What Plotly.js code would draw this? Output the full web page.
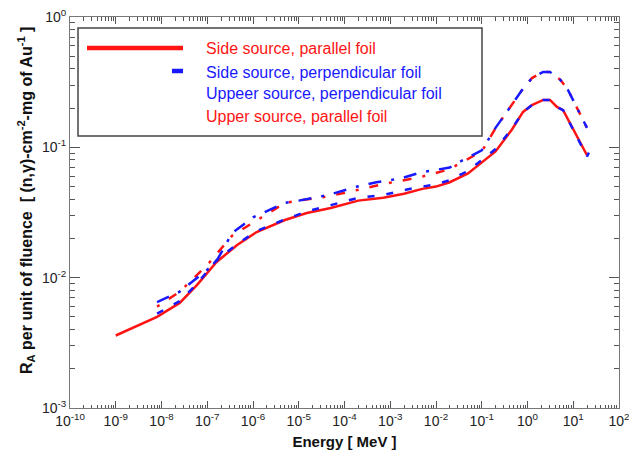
<!DOCTYPE html>
<html>
<head>
<meta charset="utf-8">
<script src="https://cdn.plot.ly/plotly-3.0.1.min.js"></script>
<style>html,body{margin:0;padding:0;background:#fff;}#chart{width:629px;height:458px;}</style>
</head>
<body>
<div id="chart"></div>
<script>
// Side source, parallel foil (red solid)
const sideParE = [1e-9, 8e-9, 2.5e-8, 6e-8, 1.6e-7, 4.5e-7, 1.2e-6, 5e-6, 1.5e-5, 5e-5, 2e-4, 7e-4, 2e-3, 5e-3, 1e-2, 2e-2, 5e-2, 0.1, 0.2, 0.45, 0.8, 1.25, 2.2, 3.1, 4.4, 6, 10, 20];
const sideParV = [0.0036, 0.0050, 0.0064, 0.0088, 0.0132, 0.0178, 0.0224, 0.0277, 0.0313, 0.0342, 0.039, 0.041, 0.044, 0.048, 0.050, 0.054, 0.063, 0.076, 0.093, 0.136, 0.187, 0.211, 0.231, 0.231, 0.204, 0.193, 0.136, 0.087];

// Side source, perpendicular foil (blue dashed)
const sidePerpE = [8e-9, 2.5e-8, 6e-8, 1.6e-7, 4.5e-7, 1.2e-6, 5e-6, 1.5e-5, 5e-5, 2e-4, 7e-4, 2e-3, 5e-3, 1e-2, 2e-2, 5e-2, 0.1, 0.2, 0.45, 0.8, 1.25, 2.2, 3.1, 4.4, 6, 10, 20, 22];
const sidePerpV = [0.0053, 0.0066, 0.0090, 0.0136, 0.0181, 0.0228, 0.0280, 0.0322, 0.0360, 0.041, 0.043, 0.047, 0.050, 0.052, 0.056, 0.066, 0.080, 0.097, 0.138, 0.187, 0.211, 0.231, 0.231, 0.204, 0.193, 0.136, 0.085, 0.091];

// Uppeer source, perpendicular foil (blue dash-dot)
const upPerpE = [8e-9, 2.5e-8, 1.5e-7, 3.5e-7, 1e-6, 5e-6, 1e-5, 4.3e-5, 1.9e-4, 5e-4, 1.8e-3, 4.5e-3, 2e-2, 3e-2, 0.1, 0.2, 0.42, 0.76, 1.25, 2.2, 3.1, 5.2, 7.7, 12, 20];
const upPerpV = [0.0065, 0.0078, 0.0129, 0.022, 0.029, 0.0375, 0.039, 0.043, 0.050, 0.054, 0.058, 0.064, 0.070, 0.076, 0.095, 0.141, 0.204, 0.275, 0.340, 0.379, 0.379, 0.330, 0.275, 0.204, 0.141];

// Upper source, parallel foil (red dash-dot)
const upParE = [8e-9, 2.5e-8, 1e-7, 3.5e-7, 1.8e-6, 5e-6, 1e-5, 4.3e-5, 1.9e-4, 8.5e-4, 4.5e-3, 2e-2, 3e-2, 0.1, 0.2, 0.42, 0.76, 1.25, 2.2, 3.1, 5.2, 7.7, 12, 20];
const upParV = [0.0060, 0.0078, 0.0125, 0.021, 0.030, 0.0375, 0.039, 0.042, 0.047, 0.053, 0.059, 0.068, 0.074, 0.093, 0.140, 0.204, 0.275, 0.340, 0.379, 0.379, 0.330, 0.275, 0.204, 0.141];

const seriesNames = ["Side source, parallel foil", "Side source, perpendicular foil", "Uppeer source, perpendicular foil", "Upper source, parallel foil"];

const xTickExp = [-10, -9, -8, -7, -6, -5, -4, -3, -2, -1, 0, 1, 2];
const yTickExp = [-3, -2, -1, 0];
const fmtPow = p => '10<sup>' + (p < 0 ? '-' + Math.abs(p) : p) + '</sup>';
const xTickText = xTickExp.map(fmtPow);
const yTickText = yTickExp.map(fmtPow);

const yTitle = '<b>R<sub>A</sub> per unit of fluence  [ (n,γ)-cm<sup>-2</sup>-mg of Au<sup>-1</sup> ]</b>';
const xTitle = '<b>Energy [ MeV ]</b>';

const RED = 'rgb(255,20,20)';
const BLUE = 'rgb(25,25,255)';

const traces = [
  {x: sideParE, y: sideParV, name: seriesNames[0], mode: 'lines', line: {color: RED, width: 2.5}},
  {x: sidePerpE, y: sidePerpV, name: seriesNames[1], mode: 'lines', line: {color: BLUE, width: 2.5, dash: '7px,12px'}},
  {x: upParE, y: upParV, name: seriesNames[3], mode: 'lines', line: {color: RED, width: 2.5, dash: '3px,11px,9px,11px'}},
  {x: upPerpE, y: upPerpV, name: seriesNames[2], mode: 'lines', line: {color: BLUE, width: 2.5, dash: '13px,10px,3px,10px'}}
];

const W = 629, H = 458, L = 70, R = 10, T = 17, B = 50;
const pw = W - L - R, ph = H - T - B;
const px = v => (v - L) / pw;
const py = v => (H - B - v) / ph;

const legendColors = [RED, BLUE, BLUE, RED];
const legendNames = [seriesNames[0], seriesNames[1], seriesNames[2], seriesNames[3]];
const legendY = [49, 72, 94, 117];

const annotations = legendNames.map((n, i) => ({
  xref: 'paper', yref: 'paper', x: px(204), y: py(legendY[i]),
  xanchor: 'left', yanchor: 'middle', showarrow: false, text: n,
  font: {family: 'Liberation Sans, Arial, sans-serif', size: 16, color: legendColors[i]}
}));
annotations.push({
  xref: 'paper', yref: 'paper', x: px(26), y: py(201), xanchor: 'center', yanchor: 'middle',
  showarrow: false, textangle: -90, text: yTitle,
  font: {family: 'Liberation Sans, Arial, sans-serif', size: 16, color: '#111'}
});

const shapes = [
  {type: 'rect', xref: 'paper', yref: 'paper', x0: px(78), x1: px(482), y0: py(28), y1: py(136), line: {color: '#444', width: 1.5}, fillcolor: 'rgba(0,0,0,0)'},
  {type: 'line', xref: 'paper', yref: 'paper', x0: px(87), x1: px(183), y0: py(48), y1: py(48), line: {color: RED, width: 4.5}},
  {type: 'line', xref: 'paper', yref: 'paper', x0: px(172), x1: px(183), y0: py(71), y1: py(71), line: {color: BLUE, width: 4.5}}
];

const axisCommon = {
  type: 'log', showline: true, linecolor: '#777', linewidth: 1, mirror: 'ticks',
  ticks: 'inside', tickcolor: '#555', showgrid: false, zeroline: false,
  ticklabeloverflow: 'allow',
  tickmode: 'array', tickfont: {family: 'Liberation Sans, Arial, sans-serif', size: 14, color: '#222'}
};

const layout = {
  width: W, height: H,
  margin: {l: L, r: R, t: T, b: B, pad: 0},
  paper_bgcolor: '#fff', plot_bgcolor: '#fff',
  showlegend: false,
  font: {family: 'Liberation Sans, Arial, sans-serif', color: '#111'},
  xaxis: Object.assign({}, axisCommon, {
    range: [-10, 2], tickvals: xTickExp.map(p => Math.pow(10, p)), ticktext: xTickText,
    ticklen: 7, minor: {ticks: 'inside', ticklen: 3.5, tickcolor: '#555', dtick: 'D1'},
    title: {text: xTitle, font: {size: 15, color: '#111'}, standoff: 8}
  }),
  yaxis: Object.assign({}, axisCommon, {
    range: [-3, 0], tickvals: yTickExp.map(p => Math.pow(10, p)), ticktext: yTickText,
    ticklen: 10, minor: {ticks: 'inside', ticklen: 5, tickcolor: '#555', dtick: 'D1'}
  }),
  annotations: annotations,
  shapes: shapes
};

Plotly.newPlot('chart', traces, layout, {displayModeBar: false, staticPlot: true});
</script>
</body>
</html>
